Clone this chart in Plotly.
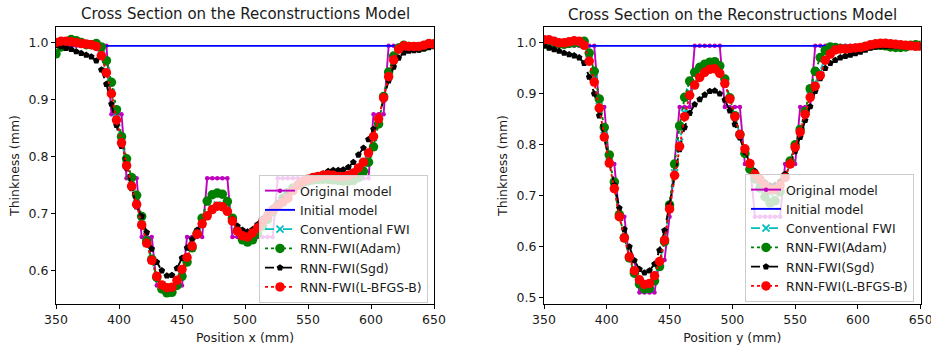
import plotly.graph_objects as go

# ---------------- data ----------------
pos = [350, 354, 358, 362, 366, 370, 374, 378, 382, 386, 390, 394, 398, 402, 406, 410, 414, 418, 422, 426,
       430, 434, 438, 442, 446, 450, 454, 458, 462, 466, 470, 474, 478, 482, 486, 490, 494, 498, 502, 506,
       510, 514, 518, 522, 526, 530, 534, 538, 542, 546, 550, 554, 558, 562, 566, 570, 574, 578, 582, 586,
       590, 594, 598, 602, 606, 610, 614, 618, 622, 626, 630, 634, 638, 642, 646, 650]

# Left panel (Position x)
orig_x = ([0.994] * 11 + [0.874] * 3 + [0.762] * 3 + [0.659] * 3 + [0.574] * 6 + [0.659] * 4 +
          [0.762] * 5 + [0.659] * 9 + [0.762] * 19 + [0.874] * 3 + [0.994] * 10)
init_x = [0.994] * 76
adam_x = [0.980, 0.992, 1.000, 1.005, 1.003, 1.000, 0.996, 0.996, 0.998, 0.992, 0.968, 0.930, 0.882, 0.835,
          0.796, 0.763, 0.732, 0.695, 0.652, 0.620, 0.588, 0.568, 0.561, 0.562, 0.574, 0.590, 0.615, 0.640,
          0.665, 0.692, 0.722, 0.733, 0.736, 0.734, 0.721, 0.692, 0.670, 0.654, 0.650, 0.654, 0.665, 0.678,
          0.690, 0.703, 0.715, 0.727, 0.737, 0.745, 0.750, 0.754, 0.757, 0.759, 0.760, 0.760, 0.760, 0.759,
          0.758, 0.757, 0.757, 0.758, 0.763, 0.774, 0.790, 0.817, 0.857, 0.905, 0.948, 0.976, 0.990, 0.995,
          0.993, 0.991, 0.990, 0.992, 0.996, 0.997]
sgd_x = [0.995, 0.993, 0.990, 0.988, 0.984, 0.981, 0.978, 0.975, 0.968, 0.952, 0.927, 0.892, 0.855, 0.818,
         0.780, 0.744, 0.712, 0.695, 0.667, 0.638, 0.615, 0.600, 0.591, 0.592, 0.604, 0.622, 0.640, 0.655,
         0.671, 0.685, 0.697, 0.706, 0.711, 0.710, 0.703, 0.690, 0.678, 0.671, 0.668, 0.672, 0.681, 0.691,
         0.701, 0.710, 0.718, 0.726, 0.734, 0.742, 0.749, 0.754, 0.758, 0.762, 0.766, 0.770, 0.774, 0.776,
         0.776, 0.777, 0.781, 0.790, 0.803, 0.815, 0.830, 0.848, 0.866, 0.900, 0.933, 0.957, 0.973, 0.982,
         0.985, 0.986, 0.987, 0.989, 0.991, 0.993]
lbfgs_x = [1.000, 1.002, 1.002, 1.001, 1.000, 0.998, 0.997, 0.996, 0.993, 0.977, 0.947, 0.910, 0.864, 0.824,
           0.784, 0.748, 0.716, 0.680, 0.648, 0.618, 0.590, 0.575, 0.570, 0.571, 0.583, 0.602, 0.623, 0.643,
           0.664, 0.682, 0.696, 0.707, 0.713, 0.712, 0.704, 0.687, 0.669, 0.661, 0.659, 0.666, 0.675, 0.686,
           0.696, 0.706, 0.713, 0.720, 0.727, 0.740, 0.750, 0.756, 0.760, 0.763, 0.765, 0.767, 0.768, 0.767,
           0.765, 0.765, 0.767, 0.771, 0.780, 0.790, 0.806, 0.835, 0.866, 0.903, 0.940, 0.969, 0.988, 0.994,
           0.993, 0.993, 0.993, 0.995, 0.998, 0.997]
conv_x = [0.999, 1.001, 1.002, 1.001, 1.000, 0.998, 0.997, 0.996, 0.994, 0.979, 0.950, 0.912, 0.866, 0.825,
          0.785, 0.749, 0.717, 0.681, 0.648, 0.618, 0.590, 0.574, 0.569, 0.570, 0.582, 0.601, 0.622, 0.643,
          0.664, 0.683, 0.698, 0.709, 0.715, 0.714, 0.705, 0.688, 0.669, 0.660, 0.658, 0.665, 0.674, 0.686,
          0.696, 0.706, 0.713, 0.720, 0.728, 0.741, 0.750, 0.756, 0.760, 0.763, 0.765, 0.767, 0.767, 0.766,
          0.764, 0.764, 0.766, 0.770, 0.778, 0.788, 0.804, 0.833, 0.865, 0.903, 0.941, 0.970, 0.988, 0.994,
          0.993, 0.993, 0.993, 0.995, 0.998, 0.997]

# Right panel (Position y)
orig_y = ([0.994] * 11 + [0.874] * 2 + [0.762] * 2 + [0.659] * 2 + [0.574] * 2 + [0.510] * 4 +
          [0.574] * 2 + [0.659] * 1 + [0.762] * 1 + [0.874] * 3 + [0.994] * 6 + [0.874] * 4 +
          [0.762] * 2 + [0.659] * 6 + [0.762] * 3 + [0.874] * 3 + [0.994] * 22)
init_y = [0.994] * 76
adam_y = [0.997, 1.003, 1.001, 0.998, 0.997, 0.999, 1.000, 1.000, 1.003, 0.980, 0.944, 0.890, 0.834, 0.780,
          0.727, 0.663, 0.618, 0.578, 0.548, 0.527, 0.517, 0.518, 0.533, 0.561, 0.610, 0.682, 0.762, 0.837,
          0.893, 0.925, 0.942, 0.952, 0.958, 0.962, 0.963, 0.955, 0.929, 0.892, 0.857, 0.820, 0.783, 0.752,
          0.733, 0.715, 0.698, 0.686, 0.690, 0.708, 0.738, 0.768, 0.800, 0.830, 0.865, 0.910, 0.944, 0.971,
          0.985, 0.992, 0.991, 0.989, 0.988, 0.988, 0.989, 0.990, 0.992, 0.994, 0.995, 0.995, 0.994, 0.992,
          0.991, 0.991, 0.992, 0.995, 0.996, 0.995]
sgd_y = [0.995, 0.990, 0.987, 0.984, 0.980, 0.977, 0.975, 0.971, 0.960, 0.933, 0.900, 0.857, 0.814, 0.768,
         0.721, 0.676, 0.634, 0.600, 0.573, 0.556, 0.549, 0.553, 0.566, 0.593, 0.632, 0.683, 0.740, 0.791,
         0.834, 0.862, 0.879, 0.889, 0.898, 0.905, 0.906, 0.900, 0.888, 0.867, 0.840, 0.814, 0.786, 0.765,
         0.748, 0.735, 0.726, 0.720, 0.721, 0.728, 0.742, 0.764, 0.787, 0.815, 0.848, 0.875, 0.905, 0.930,
         0.950, 0.960, 0.966, 0.971, 0.974, 0.976, 0.979, 0.982, 0.986, 0.990, 0.992, 0.993, 0.993, 0.993,
         0.993, 0.993, 0.993, 0.993, 0.993, 0.993]
lbfgs_y = [1.006, 1.006, 1.003, 1.000, 1.000, 1.002, 1.004, 1.003, 0.995, 0.964, 0.923, 0.872, 0.815, 0.764,
           0.714, 0.659, 0.617, 0.580, 0.553, 0.535, 0.526, 0.528, 0.543, 0.571, 0.613, 0.674, 0.740, 0.797,
           0.855, 0.897, 0.917, 0.932, 0.942, 0.948, 0.949, 0.940, 0.920, 0.890, 0.855, 0.820, 0.792, 0.763,
           0.742, 0.732, 0.720, 0.712, 0.712, 0.720, 0.736, 0.762, 0.795, 0.825, 0.860, 0.893, 0.915, 0.936,
           0.966, 0.978, 0.986, 0.988, 0.988, 0.989, 0.990, 0.991, 0.993, 0.996, 0.998, 0.999, 0.999, 0.998,
           0.997, 0.996, 0.995, 0.994, 0.993, 0.993]
conv_y = [1.005, 1.005, 1.003, 1.000, 1.000, 1.002, 1.003, 1.003, 0.996, 0.967, 0.927, 0.875, 0.818, 0.766,
          0.715, 0.660, 0.617, 0.579, 0.552, 0.533, 0.524, 0.526, 0.541, 0.569, 0.612, 0.676, 0.745, 0.805,
          0.862, 0.903, 0.922, 0.937, 0.946, 0.952, 0.953, 0.944, 0.922, 0.890, 0.855, 0.820, 0.790, 0.760,
          0.740, 0.728, 0.715, 0.705, 0.706, 0.716, 0.736, 0.763, 0.796, 0.826, 0.861, 0.897, 0.921, 0.944,
          0.970, 0.981, 0.987, 0.988, 0.988, 0.989, 0.990, 0.991, 0.993, 0.995, 0.997, 0.998, 0.998, 0.997,
          0.996, 0.995, 0.995, 0.994, 0.993, 0.993]

x_ticks = [350, 400, 450, 500, 550, 600, 650]
y_ticks_left = [0.6, 0.7, 0.8, 0.9, 1.0]
y_ticks_right = [0.5, 0.6, 0.7, 0.8, 0.9, 1.0]
title_text = "Cross Section on the Reconstructions Model"

# ---------------- figure ----------------
W, H = 931, 349
FONT = "DejaVu Sans"
TXT = "#1a1a1a"
LW = 1.9

fig = go.Figure()


def add_panel(xa, ya, leg, orig, init, conv, adam, sgd, lbfgs):
    common = dict(x=pos, xaxis=xa, yaxis=ya, legend=leg)
    fig.add_trace(go.Scatter(y=orig, name="Original model", mode="lines+markers",
                             line=dict(color="#bf00bf", width=LW),
                             marker=dict(color="#bf00bf", size=4.5), **common))
    fig.add_trace(go.Scatter(y=init, name="Initial model", mode="lines",
                             line=dict(color="#0000ff", width=LW), **common))
    fig.add_trace(go.Scatter(y=conv, name="Conventional FWI", mode="lines+markers",
                             line=dict(color="#00bfbf", width=LW, dash="dash"),
                             marker=dict(color="#00bfbf", size=7, symbol="x-thin",
                                         line=dict(color="#00bfbf", width=1.8)), **common))
    fig.add_trace(go.Scatter(y=adam, name="RNN-FWI(Adam)", mode="lines+markers",
                             line=dict(color="#008000", width=LW, dash="dot"),
                             marker=dict(color="#008000", size=9.5), **common))
    fig.add_trace(go.Scatter(y=sgd, name="RNN-FWI(Sgd)", mode="lines+markers",
                             line=dict(color="#000000", width=LW, dash="dash"),
                             marker=dict(color="#000000", size=7, symbol="pentagon"), **common))
    fig.add_trace(go.Scatter(y=lbfgs, name="RNN-FWI(L-BFGS-B)", mode="lines+markers",
                             line=dict(color="#ff0000", width=LW, dash="dot"),
                             marker=dict(color="#ff0000", size=9.5), **common))


add_panel("x", "y", "legend", orig_x, init_x, conv_x, adam_x, sgd_x, lbfgs_x)
add_panel("x2", "y2", "legend2", orig_y, init_y, conv_y, adam_y, sgd_y, lbfgs_y)

ydom = [1 - 304 / H, 1 - 27 / H]
dom1 = [56 / W, 434 / W]
dom2 = [544 / W, 920.7 / W]

axis_common = dict(showline=True, mirror=True, linecolor="black", linewidth=1,
                   ticks="outside", ticklen=4, tickwidth=1, tickcolor="black",
                   showgrid=False, zeroline=False, automargin=False, ticklabeloverflow="allow",
                   tickfont=dict(family=FONT, size=12.5, color=TXT))
title_font = dict(family=FONT, size=12.5, color=TXT)

leg_common = dict(bgcolor="rgba(255,255,255,0.8)", bordercolor="#cccccc", borderwidth=1,
                  font=dict(family=FONT, size=12.5, color=TXT), xanchor="right", yanchor="bottom",
                  tracegroupgap=0, itemwidth=30)

fig.update_layout(
    width=W, height=H, margin=dict(l=0, r=0, t=0, b=0, autoexpand=False),
    paper_bgcolor="white", plot_bgcolor="white",
    font=dict(family=FONT, color=TXT),
    xaxis=dict(domain=dom1, range=[350, 650], tickvals=x_ticks, anchor="y",
               title=dict(text="Position x (mm)", font=title_font, standoff=7), **axis_common),
    yaxis=dict(domain=ydom, range=[0.5415, 1.027], tickvals=y_ticks_left, tickformat=".1f", anchor="x",
               title=dict(text="Thinkness (mm)", font=title_font, standoff=6), **axis_common),
    xaxis2=dict(domain=dom2, range=[350, 650], tickvals=x_ticks, anchor="y2",
                title=dict(text="Position y (mm)", font=title_font, standoff=7), **axis_common),
    yaxis2=dict(domain=ydom, range=[0.4876, 1.031], tickvals=y_ticks_right, tickformat=".1f", anchor="x2",
                title=dict(text="Thinkness (mm)", font=title_font, standoff=6), **axis_common),
    legend=dict(x=428 / W, y=1 - 303 / H, **leg_common),
    legend2=dict(x=914 / W, y=1 - 302 / H, **leg_common),
    annotations=[
        dict(text=title_text, x=(dom1[0] + dom1[1]) / 2, y=1 - 14 / H, xref="paper", yref="paper",
             showarrow=False, xanchor="center", yanchor="middle",
             font=dict(family=FONT, size=15, color=TXT)),
        dict(text=title_text, x=(dom2[0] + dom2[1]) / 2, y=1 - 15 / H, xref="paper", yref="paper",
             showarrow=False, xanchor="center", yanchor="middle",
             font=dict(family=FONT, size=15, color=TXT)),
    ],
)

fig.write_html("out.html")
